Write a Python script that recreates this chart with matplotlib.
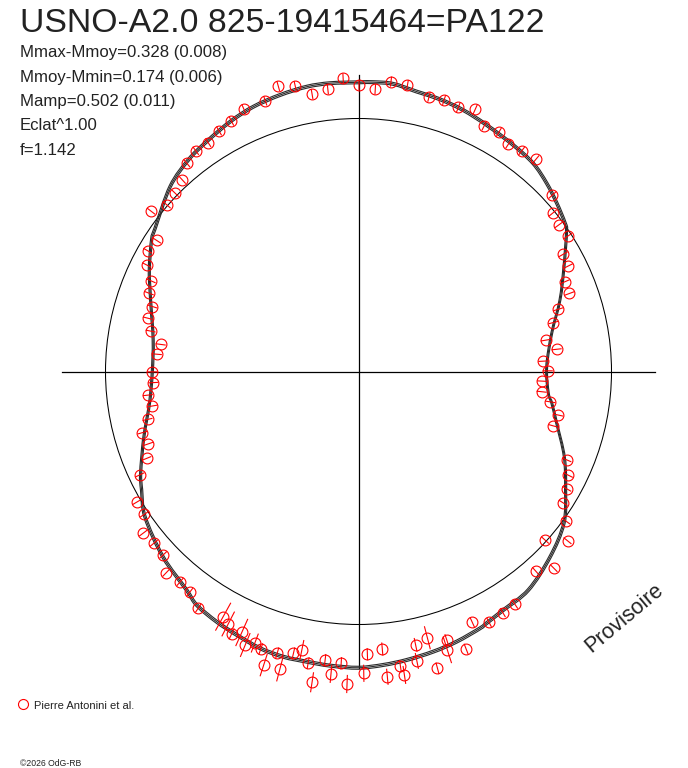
import numpy as np
import matplotlib
matplotlib.use("Agg")
import matplotlib.pyplot as plt
from matplotlib.collections import LineCollection
from matplotlib.patches import Circle, PathPatch
from matplotlib.path import Path
from matplotlib.lines import Line2D

plt.rcParams['font.family'] = ['Liberation Sans', 'DejaVu Sans']

# ---------------- data ----------------
title = "USNO-A2.0 825-19415464=PA122"
stats_lines = ["Mmax-Mmoy=0.328 (0.008)",
               "Mmoy-Mmin=0.174 (0.006)",
               "Mamp=0.502 (0.011)",
               "Eclat^1.00",
               "f=1.142"]
mmoy_minus_mmin = 0.174
legend_label = "Pierre Antonini et al."
copyright_text = "©2026 OdG-RB"
watermark = "Provisoire"

# observations: phase (deg, clockwise from top), relative flux, flux error
pt_phase = [307.7, 311.0, 314.2, 317.4, 320.5, 323.6, 326.7, 329.9, 333.1, 336.4,
            341.0, 344.3, 347.5, 350.5, 353.8, 357.0, 0.1, 3.4, 6.4, 9.7,
            14.4, 17.5, 20.7, 24.0, 27.1, 30.4, 33.4, 36.5, 39.9, 47.7,
            50.8, 53.8, 57.1, 60.2, 63.3, 66.5, 69.7, 72.7, 75.9, 80.5,
            83.6, 86.8, 89.8, 93.0, 96.3, 99.0, 102.3, 105.6, 113.0, 116.3,
            119.4, 122.7, 125.8, 129.0, 132.1, 135.2, 138.4, 146.1, 149.1, 152.5,
            155.6, 158.8, 161.8, 162.3, 165.1, 165.5, 168.2, 168.6, 171.4, 171.9,
            174.6, 175.1, 178.2, 179.0, 182.1, 183.4, 185.2, 186.6, 188.5, 189.8,
            191.5, 193.0, 194.8, 196.1, 197.9, 199.4, 200.9, 202.5, 204.1, 205.8,
            207.3, 208.9, 214.1, 217.4, 220.3, 223.7, 226.8, 230.0, 233.1, 236.3,
            239.5, 244.7, 247.7, 251.0, 254.2, 257.2, 260.5, 263.6, 266.9, 269.9,
            274.9, 277.8, 281.0, 284.2, 287.5, 290.5, 293.6, 296.7, 299.8, 303.0]
pt_flux = [1.036, 1.004, 1.011, 1.029, 1.067, 1.084, 1.082, 1.099, 1.110, 1.132,
           1.132, 1.172, 1.156, 1.111, 1.122, 1.160, 1.132, 1.117, 1.153, 1.149,
           1.121, 1.125, 1.116, 1.134, 1.091, 1.096, 1.076, 1.084, 1.093, 1.036,
           0.990, 0.982, 0.985, 0.933, 0.928, 0.890, 0.889, 0.827, 0.794, 0.750,
           0.788, 0.732, 0.748, 0.727, 0.728, 0.768, 0.808, 0.800, 0.894, 0.925,
           0.945, 0.961, 1.011, 1.063, 0.994, 1.096, 1.055, 1.109, 1.111, 1.118,
           1.089, 1.176, 1.117, 1.155, 1.214, 1.087, 1.104, 1.167, 1.213, 1.176,
           1.212, 1.101, 1.118, 1.193, 1.236, 1.155, 1.200, 1.148, 1.242, 1.170,
           1.123, 1.143, 1.216, 1.159, 1.219, 1.163, 1.149, 1.170, 1.130, 1.152,
           1.123, 1.107, 1.130, 1.098, 1.090, 1.101, 1.059, 1.056, 1.064, 1.017,
           1.018, 0.956, 0.905, 0.879, 0.888, 0.855, 0.826, 0.838, 0.812, 0.815,
           0.800, 0.789, 0.837, 0.859, 0.854, 0.884, 0.895, 0.937, 0.960, 0.951]
pt_err = [0.020, 0.020, 0.020, 0.020, 0.020, 0.020, 0.020, 0.020, 0.020, 0.020,
          0.020, 0.020, 0.020, 0.020, 0.020, 0.020, 0.020, 0.020, 0.020, 0.020,
          0.020, 0.020, 0.020, 0.020, 0.020, 0.020, 0.020, 0.020, 0.020, 0.020,
          0.020, 0.020, 0.020, 0.020, 0.020, 0.020, 0.020, 0.020, 0.020, 0.020,
          0.020, 0.020, 0.020, 0.020, 0.020, 0.020, 0.020, 0.020, 0.020, 0.020,
          0.020, 0.020, 0.020, 0.020, 0.020, 0.020, 0.020, 0.020, 0.020, 0.020,
          0.022, 0.022, 0.024, 0.055, 0.024, 0.047, 0.028, 0.032, 0.036, 0.024,
          0.032, 0.026, 0.024, 0.034, 0.036, 0.024, 0.036, 0.024, 0.040, 0.024,
          0.040, 0.024, 0.051, 0.024, 0.047, 0.024, 0.040, 0.051, 0.059, 0.024,
          0.055, 0.063, 0.020, 0.020, 0.020, 0.020, 0.020, 0.020, 0.020, 0.020,
          0.020, 0.020, 0.020, 0.020, 0.020, 0.020, 0.020, 0.020, 0.020, 0.020,
          0.020, 0.020, 0.020, 0.020, 0.020, 0.020, 0.020, 0.020, 0.020, 0.020]

# fitted model curve: phase (deg), relative flux
curve_phase = [0.1, 2.9, 6.9, 11.75, 16.67, 21.84, 27.48, 34.35, 40.0, 45.0,
               49.69, 54.33, 56.15, 63.05, 70.46, 78.73, 88.6, 96.46, 99.26, 104.57,
               112.56, 119.77, 126.4, 134.09, 142.15, 148.73, 152.99, 154.68, 160.03, 165.05,
               170.5, 175.17, 180.0, 185.53, 190.12, 194.77, 199.59, 204.81, 209.54, 214.71,
               218.18, 226.5, 235.73, 241.34, 245.01, 252.34, 257.1, 262.2, 270.0, 278.7,
               288.98, 295.88, 302.45, 305.13, 314.43, 321.17, 326.55, 332.78, 338.33, 344.15,
               349.69, 354.35]
curve_flux = [1.143, 1.145, 1.145, 1.130, 1.123, 1.113, 1.098, 1.084, 1.074, 1.052,
              1.028, 1.005, 0.990, 0.911, 0.845, 0.779, 0.744, 0.755, 0.774, 0.809,
              0.881, 0.943, 1.009, 1.054, 1.094, 1.103, 1.116, 1.123, 1.136, 1.146,
              1.156, 1.164, 1.171, 1.168, 1.165, 1.166, 1.161, 1.147, 1.137, 1.123,
              1.099, 1.065, 1.021, 0.977, 0.950, 0.892, 0.859, 0.832, 0.815, 0.821,
              0.869, 0.919, 0.969, 0.983, 1.043, 1.073, 1.089, 1.110, 1.126, 1.136,
              1.144, 1.145]
curve_band = [-0.005, 0.0, 0.005]   # several overlapping fitted solutions

# ---------------- figure ----------------
W, H = 688, 768
fig = plt.figure(figsize=(W / 100, H / 100), dpi=100)
ax = fig.add_axes([0, 0, 1, 1])
ax.set_axis_off()
R0 = 253.0   # pixels per unit flux
cx, cy = 358.5, 371.5
ax.set_xlim(-cx / R0, (W - cx) / R0)
ax.set_ylim(-(H - cy) / R0, cy / R0)

def fp(x, y):
    return x / W, 1 - y / H

ink = '#222222'

# axes cross and mean circle
L = 10 ** (0.4 * mmoy_minus_mmin)
ax.plot([-L, L], [0, 0], color='black', lw=0.9, zorder=1)
ax.plot([0, 0], [-L, L], color='black', lw=0.9, zorder=1)
ax.add_patch(Circle((0, 0), 1.0, fill=False, ec='black', lw=0.75, zorder=1))

# model curves, drawn as a smooth closed path through the read vertices
def smooth_closed_path(xs, ys):
    P = np.column_stack([xs, ys])
    n = len(P)
    verts = [P[0]]
    codes = [Path.MOVETO]
    for i in range(n):
        p0, p1, p2, p3 = P[i - 1], P[i], P[(i + 1) % n], P[(i + 2) % n]
        verts += [p1 + (p2 - p0) / 6.0, p2 - (p3 - p1) / 6.0, p2]
        codes += [Path.CURVE4] * 3
    return Path(verts, codes)

cph = np.radians(np.array(curve_phase))
cfl = np.array(curve_flux)
for b in curve_band:
    f = cfl * (1 + b)
    path = smooth_closed_path(f * np.sin(cph), f * np.cos(cph))
    ax.add_patch(PathPatch(path, fill=False, ec='#2a2a2a', lw=0.8, zorder=2))

# observations with radial error bars
ph = np.radians(np.array(pt_phase))
fl = np.array(pt_flux)
er = np.array(pt_err)
ux, uy = np.sin(ph), np.cos(ph)
segs = [[((f - e) * a, (f - e) * b), ((f + e) * a, (f + e) * b)]
        for f, e, a, b in zip(fl, er, ux, uy)]
ax.add_collection(LineCollection(segs, colors='red', linewidths=0.8, zorder=3))
ax.plot(fl * ux, fl * uy, ls='none', marker='o', ms=7.8, mfc='none',
        mec='red', mew=0.8, zorder=4)

# texts
fig.text(*fp(20, 32.3), title, fontsize=24.3, color=ink, va='baseline', ha='left')
for i, s in enumerate(stats_lines):
    fig.text(*fp(20, 57.3 + 24.35 * i), s, fontsize=12.1, color=ink,
             va='baseline', ha='left')

fig.add_artist(Line2D([22.5 / W], [1 - 704.3 / H], transform=fig.transFigure,
                      marker='o', ms=7.2, mfc='none', mec='red', mew=0.8, ls='none'))
fig.text(*fp(34.3, 709), legend_label, fontsize=8, color=ink,
         va='baseline', ha='left')
fig.text(*fp(20, 765.5), copyright_text, fontsize=6.2, color=ink,
         va='baseline', ha='left')
fig.text(*fp(624, 618), watermark, fontsize=15.5, color=ink, rotation=40,
         rotation_mode='anchor', ha='center', va='center')

fig.savefig("out.png", dpi=100, facecolor='white')
